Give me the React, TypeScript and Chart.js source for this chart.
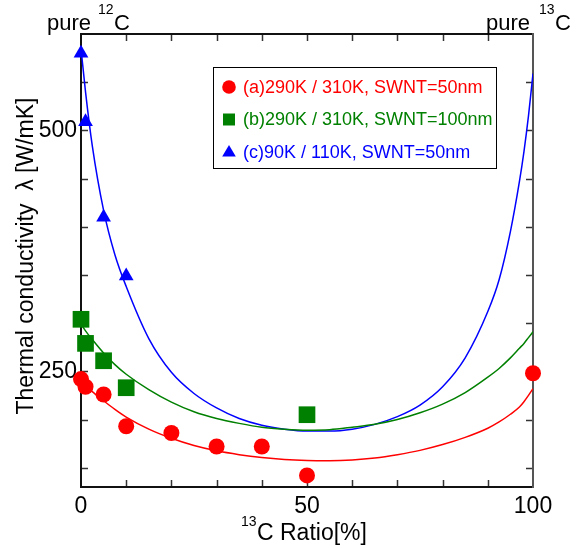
import React, { useEffect, useRef } from 'react';
import { Chart, registerables } from 'chart.js';

Chart.register(...registerables);

const FONT = '"Liberation Sans", Arial, sans-serif';
const RED = '#ff0000';
const GREEN = '#008000';
const BLUE = '#0000ff';

// measured points
const redX = [0, 1, 5, 10, 20, 30, 40, 50, 100];
const redY = [242, 234, 226, 193, 186, 172, 172, 142, 248];
const greenX = [0, 1, 5, 10, 50];
const greenY = [304, 279, 261, 233, 205];
const blueX = [0, 1, 5, 10];
const blueY = [580, 509, 410, 349];

// fitted curves
const curveX = [0, 1, 2.5, 5, 7.5, 10, 15, 20, 25, 30, 35, 40, 45, 50, 55, 60, 65, 70, 75, 80, 85, 90, 92.5, 95, 97, 98, 99, 100];
const redFit = [240, 235.5, 229, 219.5, 210.5, 202.5, 190, 180.5, 173, 167.5, 163.5, 160.5, 158.5, 157.5, 157.3, 158, 160, 163.5, 168, 174, 181.5, 191, 197.5, 205.5, 213, 218.5, 225, 232];
const greenFit = [299, 292, 283, 269, 257, 247, 231, 218, 208, 201, 196, 192, 190, 189, 189.5, 192, 195, 200, 207, 216, 228, 244, 253, 264, 274, 279, 285, 291];
const blueFit = [585, 540, 484, 417, 371, 338, 284, 249, 227, 212, 201, 194, 190, 188, 188, 190, 195, 203, 215, 234, 264, 312, 345, 395, 447, 478, 515, 559];

const legendLabels = ['(a)290K / 310K, SWNT=50nm', '(b)290K / 310K, SWNT=100nm', '(c)90K / 110K, SWNT=50nm'];
const xTickLabels = [0, 50, 100];
const yTickLabels = [250, 500];

const X_MIN = 0, X_MAX = 100, Y_MIN = 130, Y_MAX = 600;

function pts(xs: number[], ys: number[]) {
  return xs.map((x, i) => ({ x, y: ys[i] }));
}

function drawMarker(ctx: CanvasRenderingContext2D, kind: string, x: number, y: number, color: string) {
  ctx.fillStyle = color;
  ctx.beginPath();
  if (kind === 'circle') {
    ctx.arc(x, y, 6.8, 0, Math.PI * 2);
  } else if (kind === 'rect') {
    ctx.rect(x - 6, y - 6, 12, 12);
  } else {
    ctx.moveTo(x, y - 7);
    ctx.lineTo(x + 6.8, y + 4.5);
    ctx.lineTo(x - 6.8, y + 4.5);
    ctx.closePath();
  }
  ctx.fill();
}

const decor = {
  id: 'decor',
  beforeDatasetsDraw(chart: any) {
    const { ctx, chartArea: a, scales } = chart;
    const xs = scales.x, ys = scales.y;
    ctx.save();
    ctx.lineCap = 'butt';
    ctx.strokeStyle = '#333';
    ctx.lineWidth = 1.5;
    const seg = (x1: number, y1: number, x2: number, y2: number) => {
      ctx.beginPath(); ctx.moveTo(x1, y1); ctx.lineTo(x2, y2); ctx.stroke();
    };
    for (let v = 10; v < X_MAX; v += 10) {
      const px = Math.round(xs.getPixelForValue(v)) + 0.5;
      seg(px, a.bottom, px, a.bottom - 7);
      seg(px, a.top, px, a.top + 7);
    }
    for (let v = 150; v < Y_MAX; v += 50) {
      const py = Math.round(ys.getPixelForValue(v)) + 0.5;
      seg(a.left, py, a.left + 7, py);
      seg(a.right, py, a.right - 7, py);
    }
    ctx.lineWidth = 2;
    ctx.strokeStyle = '#111';
    seg(a.left, a.top - 1, a.left, a.bottom + 1);
    seg(a.left - 1, a.bottom, a.right + 1, a.bottom);
    seg(a.left - 1, a.top, a.right + 1, a.top);
    ctx.strokeStyle = '#555';
    seg(a.right, a.top - 1, a.right, a.bottom + 1);
    ctx.restore();
  },
  afterDraw(chart: any) {
    const { ctx } = chart;
    ctx.save();
    ctx.fillStyle = '#000';
    ctx.textBaseline = 'alphabetic';
    ctx.textAlign = 'left';
    // top labels
    ctx.font = `22px ${FONT}`;
    ctx.fillText('pure', 47, 30);
    ctx.fillText('C', 114, 30);
    ctx.fillText('pure', 486, 30);
    ctx.fillText('C', 555, 30);
    ctx.font = `14px ${FONT}`;
    ctx.fillText('12', 98, 14);
    ctx.fillText('13', 539, 14);
    // x title
    ctx.font = `14px ${FONT}`;
    ctx.fillText('13', 241, 526);
    ctx.font = `23px ${FONT}`;
    ctx.fillText('C Ratio[%]', 257, 540);
    // y title
    ctx.save();
    ctx.translate(33, 256);
    ctx.rotate(-Math.PI / 2);
    ctx.textAlign = 'center';
    ctx.font = `23px ${FONT}`;
    ctx.fillText('Thermal conductivity  \u03bb [W/mK]', 0, 0);
    ctx.restore();
    // legend
    ctx.lineWidth = 1;
    ctx.strokeStyle = '#000';
    ctx.strokeRect(213.5, 67.5, 283, 101);
    const kinds = ['circle', 'rect', 'triangle'];
    const colors = [RED, GREEN, BLUE];
    const rows = [87, 119.5, 152];
    ctx.font = `18px ${FONT}`;
    ctx.textBaseline = 'middle';
    for (let i = 0; i < 3; i++) {
      drawMarker(ctx, kinds[i], 229, rows[i], colors[i]);
      ctx.fillStyle = colors[i];
      ctx.fillText(legendLabels[i], 243, rows[i] + 1);
    }
    ctx.restore();
  },
};

export default function App() {
  const ref = useRef<HTMLCanvasElement>(null);
  useEffect(() => {
    document.body.style.margin = '0';
    const chart = new Chart(ref.current as HTMLCanvasElement, {
      type: 'scatter',
      data: {
        datasets: [
          { label: 'a', data: pts(redX, redY), backgroundColor: RED, borderColor: RED, pointStyle: 'circle', pointRadius: 8, pointBorderWidth: 0, order: 0, clip: false },
          { label: 'b', data: pts(greenX, greenY), backgroundColor: GREEN, borderColor: GREEN, pointStyle: 'rect', pointRadius: 11.8, pointBorderWidth: 0, order: 0, clip: false },
          { label: 'c', data: pts(blueX, blueY), backgroundColor: BLUE, borderColor: BLUE, pointStyle: 'triangle', pointRadius: 8.5, pointBorderWidth: 0, order: 0, clip: false },
          { label: 'fa', data: pts(curveX, redFit), showLine: true, borderColor: RED, borderWidth: 1.5, pointRadius: 0, cubicInterpolationMode: 'monotone', order: 1 },
          { label: 'fb', data: pts(curveX, greenFit), showLine: true, borderColor: GREEN, borderWidth: 1.5, pointRadius: 0, cubicInterpolationMode: 'monotone', order: 1 },
          { label: 'fc', data: pts(curveX, blueFit), showLine: true, borderColor: BLUE, borderWidth: 1.5, pointRadius: 0, cubicInterpolationMode: 'monotone', order: 1 },
        ] as any,
      },
      options: {
        animation: false,
        responsive: true,
        maintainAspectRatio: false,
        layout: { padding: { top: 34, right: 54, left: 0, bottom: 0 } },
        plugins: { legend: { display: false }, tooltip: { enabled: false } },
        scales: {
          x: {
            type: 'linear', min: X_MIN, max: X_MAX,
            grid: { display: false, drawTicks: false },
            border: { display: false },
            ticks: {
              stepSize: 50, padding: 6, color: '#000',
              font: { family: FONT, size: 23 },
              callback: (v: any) => (xTickLabels.includes(Number(v)) ? String(v) : ''),
            },
            afterFit: (s: any) => { s.height = 61; },
          },
          y: {
            type: 'linear', min: Y_MIN, max: Y_MAX,
            grid: { display: false, drawTicks: false },
            border: { display: false },
            ticks: {
              stepSize: 50, padding: 4, color: '#000',
              font: { family: FONT, size: 23 },
              callback: (v: any) => (yTickLabels.includes(Number(v)) ? String(v) : ''),
            },
            afterFit: (s: any) => { s.width = 81; },
          },
        },
      },
      plugins: [decor],
    } as any);
    return () => chart.destroy();
  }, []);
  return (
    <div style={{ position: 'relative', width: 587, height: 548 }}>
      <canvas ref={ref} />
    </div>
  );
}
